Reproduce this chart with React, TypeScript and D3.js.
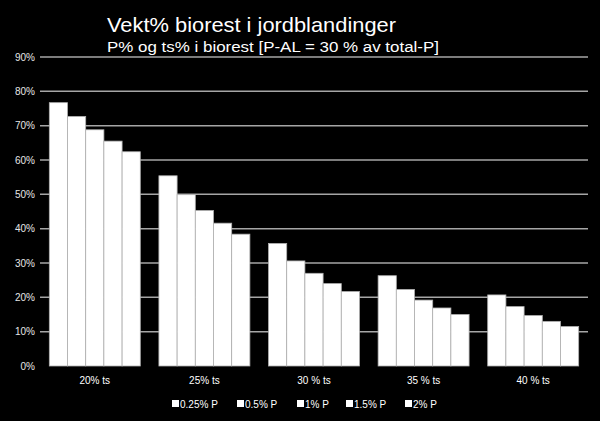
import React, { useEffect, useRef } from 'react';
import * as d3 from 'd3';

// categories (x groups) and series (P levels)
const categories = ['20% ts', '25% ts', '30 % ts', '35 % ts', '40 % ts'];
const seriesNames = ['0.25% P', '0.5% P', '1% P', '1.5% P', '2% P'];

// values in percent, one array per series, ordered as categories
const p025 = [76.7, 55.4, 35.7, 26.3, 20.7];
const p05 = [72.7, 49.9, 30.6, 22.3, 17.3];
const p1 = [68.8, 45.3, 27.0, 19.2, 14.7];
const p15 = [65.5, 41.6, 24.0, 16.9, 13.0];
const p2 = [62.4, 38.4, 21.7, 15.0, 11.5];
const seriesValues = [p025, p05, p1, p15, p2];

const yTicks = [0, 10, 20, 30, 40, 50, 60, 70, 80, 90];

const App = () => {
  const svgRef = useRef<SVGSVGElement | null>(null);

  useEffect(() => {
    if (!svgRef.current) return;
    const svg = d3.select(svgRef.current);
    svg.selectAll('*').remove();

    const width = 600;
    const height = 421;
    const margin = { top: 57, right: 12, bottom: 55, left: 40 };
    const chartWidth = width - margin.left - margin.right;
    const chartHeight = height - margin.top - margin.bottom;
    const font = '"Liberation Sans", Arial, sans-serif';

    svg.append('rect')
      .attr('width', width)
      .attr('height', height)
      .attr('fill', '#000');

    // titles (the original text is drawn wider than the font's natural width)
    svg.append('text')
      .attr('x', 107)
      .attr('y', 31.7)
      .attr('font-family', font)
      .attr('font-size', '21px')
      .attr('fill', '#fff')
      .attr('textLength', 289)
      .attr('lengthAdjust', 'spacingAndGlyphs')
      .text('Vekt% biorest i jordblandinger');

    svg.append('text')
      .attr('x', 107)
      .attr('y', 51.7)
      .attr('font-family', font)
      .attr('font-size', '14.7px')
      .attr('fill', '#fff')
      .attr('textLength', 332)
      .attr('lengthAdjust', 'spacingAndGlyphs')
      .text('P% og ts% i biorest [P-AL = 30 % av total-P]');

    const g = svg.append('g')
      .attr('transform', `translate(${margin.left}, ${margin.top})`);

    const x0 = d3.scaleBand<string>()
      .domain(categories)
      .range([0, chartWidth])
      .paddingInner(0.17)
      .paddingOuter(0.085);

    const x1 = d3.scaleBand<string>()
      .domain(seriesNames)
      .range([0, x0.bandwidth()]);

    const y = d3.scaleLinear()
      .domain([0, 90])
      .range([chartHeight, 0]);

    // gridlines
    g.selectAll('.grid')
      .data(yTicks.filter(t => t > 0))
      .enter()
      .append('line')
      .attr('x1', 0)
      .attr('x2', chartWidth)
      .attr('y1', d => y(d))
      .attr('y2', d => y(d))
      .attr('stroke', '#a6a6a6')
      .attr('stroke-width', 1.5);

    // y tick labels
    g.selectAll('.ytick')
      .data(yTicks)
      .enter()
      .append('text')
      .attr('x', -5)
      .attr('y', d => y(d) + 3.5)
      .attr('text-anchor', 'end')
      .attr('font-family', font)
      .attr('font-size', '10px')
      .attr('fill', '#e6e6e6')
      .text(d => `${d}%`);

    // bars
    seriesNames.forEach((name, si) => {
      g.selectAll(`.bar-${si}`)
        .data(seriesValues[si])
        .enter()
        .append('rect')
        .attr('x', (_, i) => (x0(categories[i]) ?? 0) + (x1(name) ?? 0))
        .attr('y', d => y(d))
        .attr('width', x1.bandwidth())
        .attr('height', d => chartHeight - y(d))
        .attr('fill', '#fff')
        .attr('stroke', '#b0b0b0')
        .attr('stroke-width', 0.8);
    });

    // category labels
    g.selectAll('.xlabel')
      .data(categories)
      .enter()
      .append('text')
      .attr('x', d => (x0(d) ?? 0) + x0.bandwidth() / 2)
      .attr('y', chartHeight + 18)
      .attr('text-anchor', 'middle')
      .attr('font-family', font)
      .attr('font-size', '10px')
      .attr('fill', '#fff')
      .text(d => d);

    // legend
    const legendX = [172, 237, 297, 346, 405];
    const legend = svg.append('g');
    seriesNames.forEach((name, i) => {
      legend.append('rect')
        .attr('x', legendX[i])
        .attr('y', 400)
        .attr('width', 7)
        .attr('height', 7)
        .attr('fill', '#fff');
      legend.append('text')
        .attr('x', legendX[i] + 8)
        .attr('y', 407.5)
        .attr('font-family', font)
        .attr('font-size', '10px')
        .attr('fill', '#fff')
        .text(name);
    });
  }, []);

  return (
    <div style={{ position: 'fixed', left: 0, top: 0, width: 600, height: 421, background: '#000' }}>
      <svg ref={svgRef} width={600} height={421} style={{ display: 'block' }}></svg>
    </div>
  );
};

export default App;
